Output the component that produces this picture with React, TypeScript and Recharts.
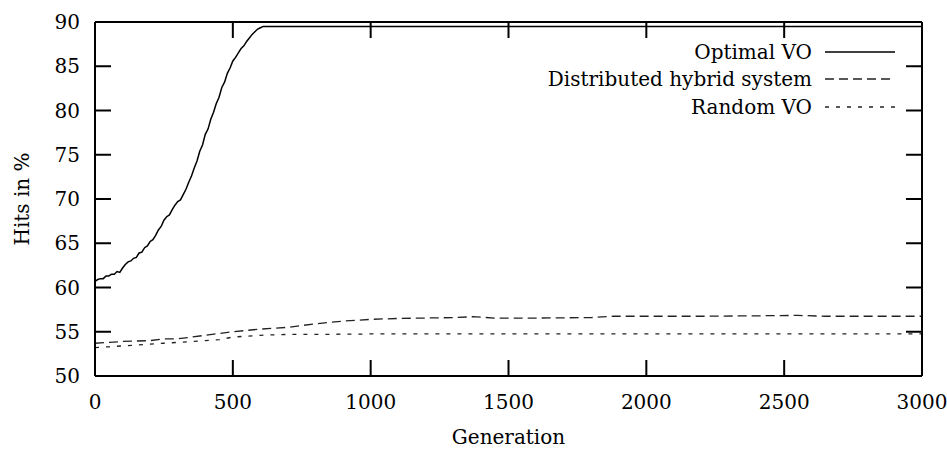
import React from "react";
import { LineChart, Line, XAxis, YAxis, Legend } from "recharts";

const FONT = "'DejaVu Serif', serif";
const xTicks = [0, 500, 1000, 1500, 2000, 2500, 3000];
const yTicks = [50, 55, 60, 65, 70, 75, 80, 85, 90];

const optimalGen = [
  0, 10, 20, 30, 40, 50, 60, 70, 80, 90, 100, 110, 120, 130, 140, 150, 160, 170, 180, 190,
  200, 210, 220, 230, 240, 250, 260, 270, 280, 290, 300, 310, 320, 330, 340, 350, 360, 370, 380, 390,
  400, 410, 420, 430, 440, 450, 460, 470, 480, 490, 500, 510, 520, 530, 540, 550, 560, 570, 580, 590,
  600, 610, 620, 3000,
];
const optimalHits = [
  60.7, 60.9, 61.0, 61.0, 61.3, 61.3, 61.5, 61.5, 61.8, 61.7, 62.2, 62.6, 62.9, 63.0, 63.3, 63.4, 63.9, 64.0, 64.5, 64.7,
  65.2, 65.4, 65.9, 66.5, 66.9, 67.6, 68.0, 68.2, 68.8, 69.3, 69.7, 69.9, 70.5, 71.1, 71.9, 72.6, 73.5, 74.3, 75.4, 76.1,
  77.3, 77.9, 79.0, 79.8, 80.8, 81.5, 82.6, 83.2, 84.2, 84.8, 85.6, 86.0, 86.5, 87.0, 87.3, 87.8, 88.2, 88.6, 88.9, 89.2,
  89.35, 89.5, 89.5, 89.5,
];

const hybridGen = [0, 50, 100, 150, 200, 250, 300, 350, 400, 450, 500, 600, 700, 800, 900, 1000, 1100, 1200, 1300, 1370, 1450, 1600, 1800, 1880, 2000, 2200, 2400, 2550, 2650, 3000];
const hybridHits = [53.7, 53.8, 53.9, 53.95, 54.0, 54.2, 54.2, 54.4, 54.6, 54.8, 55.0, 55.3, 55.5, 55.9, 56.2, 56.4, 56.5, 56.55, 56.6, 56.7, 56.55, 56.55, 56.6, 56.75, 56.75, 56.75, 56.8, 56.85, 56.75, 56.75];

const randomGen = [0, 50, 100, 150, 200, 250, 300, 350, 400, 450, 500, 550, 600, 700, 800, 1000, 3000];
const randomHits = [53.2, 53.3, 53.4, 53.5, 53.6, 53.7, 53.8, 53.9, 54.0, 54.1, 54.4, 54.5, 54.6, 54.7, 54.7, 54.75, 54.75];

const toRows = (gen: number[], hits: number[]) => gen.map((g, i) => ({ gen: g, hits: hits[i] }));

const series = [
  { name: "Optimal VO", data: toRows(optimalGen, optimalHits), dash: undefined as string | undefined, color: "#000", width: 1.5 },
  { name: "Distributed hybrid system", data: toRows(hybridGen, hybridHits), dash: "9 5", color: "#222", width: 1.3 },
  { name: "Random VO", data: toRows(randomGen, randomHits), dash: "4 7", color: "#222", width: 1.3 },
];

const TICK_LEN = 16;
const LABEL_GAP = 15;
const FS = 20;

function LeftTick(props: any) {
  const { x, y, payload } = props;
  const ax = x + LABEL_GAP;
  return (
    <g>
      <line x1={ax} x2={ax + TICK_LEN} y1={y} y2={y} stroke="#000" strokeWidth={2} />
      <text x={x} y={y} dy="0.36em" textAnchor="end" fontFamily={FONT} fontSize={FS} fill="#000">
        {payload.value}
      </text>
    </g>
  );
}

function BottomTick(props: any) {
  const { x, y, payload } = props;
  const ay = y - 17;
  return (
    <g>
      <line x1={x} x2={x} y1={ay} y2={ay - TICK_LEN} stroke="#000" strokeWidth={2} />
      <text x={x} y={y} dy="0.78em" textAnchor="middle" fontFamily={FONT} fontSize={FS} fill="#000">
        {payload.value}
      </text>
    </g>
  );
}

function RightTick(props: any) {
  const { x, y } = props;
  return <line x1={x} x2={x - TICK_LEN} y1={y} y2={y} stroke="#000" strokeWidth={2} />;
}

function TopTick(props: any) {
  const { x, y } = props;
  return <line x1={x} x2={x} y1={y} y2={y + TICK_LEN} stroke="#000" strokeWidth={2} />;
}

function LegendBox() {
  return (
    <div style={{ fontFamily: FONT, fontSize: FS, color: "#000" }}>
      {series.map((s) => (
        <div
          key={s.name}
          style={{ display: "flex", justifyContent: "flex-end", alignItems: "center", height: 27.5, paddingRight: 52 }}
        >
          <span style={{ marginRight: 13, whiteSpace: "nowrap" }}>{s.name}</span>
          <svg width={70} height={4} style={{ display: "block" }}>
            <line x1={0} x2={70} y1={2} y2={2} stroke={s.color} strokeWidth={1.3} strokeDasharray={s.dash} />
          </svg>
        </div>
      ))}
    </div>
  );
}

export default function App() {
  return (
    <div style={{ position: "absolute", left: 0, top: 0, background: "#fff" }}>
      <LineChart width={947} height={454} margin={{ top: 21, right: 24, bottom: 48, left: 0 }}>
        <XAxis
          dataKey="gen"
          type="number"
          domain={[0, 3000]}
          ticks={xTicks}
          allowDataOverflow
          height={30}
          tickSize={0}
          tickMargin={17}
          tickLine={false}
          axisLine={{ stroke: "#000", strokeWidth: 2 }}
          tick={<BottomTick />}
          label={{ value: "Generation", position: "bottom", offset: 24, fill: "#000", fontFamily: FONT, fontSize: FS }}
        />
        <XAxis
          xAxisId="top"
          orientation="top"
          dataKey="gen"
          type="number"
          domain={[0, 3000]}
          ticks={xTicks}
          allowDataOverflow
          height={1}
          tickSize={0}
          tickMargin={0}
          tickLine={false}
          axisLine={{ stroke: "#000", strokeWidth: 2 }}
          tick={<TopTick />}
        />
        <YAxis
          type="number"
          domain={[50, 90]}
          ticks={yTicks}
          allowDataOverflow
          width={95}
          tickSize={0}
          tickMargin={LABEL_GAP}
          tickLine={false}
          axisLine={{ stroke: "#000", strokeWidth: 2 }}
          tick={<LeftTick />}
          label={{
            value: "Hits in %",
            angle: -90,
            position: "insideLeft",
            offset: 22,
            fill: "#000",
            fontFamily: FONT,
            fontSize: FS,
            style: { textAnchor: "middle" },
          }}
        />
        <YAxis
          yAxisId="right"
          orientation="right"
          type="number"
          domain={[50, 90]}
          ticks={yTicks}
          allowDataOverflow
          width={1}
          tickSize={0}
          tickMargin={0}
          tickLine={false}
          axisLine={{ stroke: "#000", strokeWidth: 2 }}
          tick={<RightTick />}
        />
        <Legend
          layout="vertical"
          align="center"
          verticalAlign="middle"
          wrapperStyle={{ left: 0, top: 38, width: 947 }}
          content={() => <LegendBox />}
        />
        {series.map((s) => (
          <Line
            key={s.name}
            data={s.data}
            dataKey="hits"
            name={s.name}
            type="linear"
            stroke={s.color}
            strokeWidth={s.width}
            strokeDasharray={s.dash}
            dot={false}
            activeDot={false}
            isAnimationActive={false}
          />
        ))}
      </LineChart>
    </div>
  );
}
